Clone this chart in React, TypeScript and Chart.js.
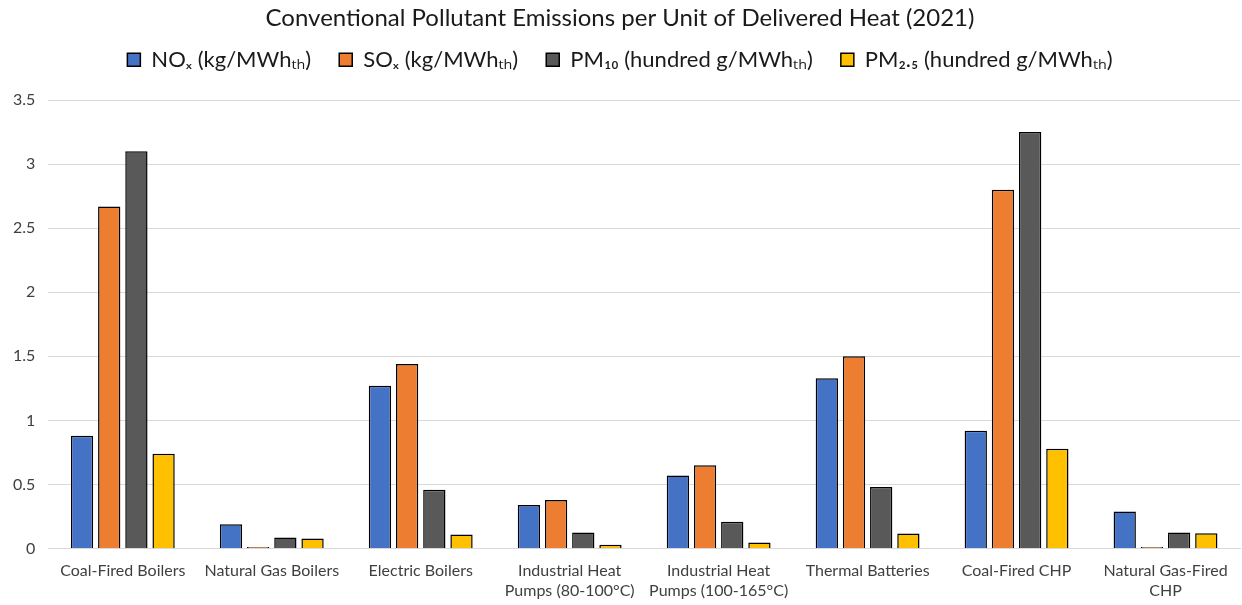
import React, { useEffect, useRef } from "react";
import { Chart, registerables } from "chart.js";

Chart.register(...registerables);

const categories: (string | string[])[] = [
  "Coal-Fired Boilers",
  "Natural Gas Boilers",
  "Electric Boilers",
  ["Industrial Heat", "Pumps (80-100°C)"],
  ["Industrial Heat", "Pumps (100-165°C)"],
  "Thermal Batteries",
  "Coal-Fired CHP",
  ["Natural Gas-Fired", "CHP"],
];

const noxValues = [0.88, 0.19, 1.27, 0.34, 0.57, 1.33, 0.92, 0.29];
const soxValues = [2.67, 0.012, 1.44, 0.38, 0.65, 1.5, 2.8, 0.012];
const pm10Values = [3.1, 0.086, 0.46, 0.125, 0.21, 0.48, 3.25, 0.125];
const pm25Values = [0.74, 0.078, 0.11, 0.03, 0.047, 0.117, 0.78, 0.12];

const seriesLabels = [
  "NOₓ (kg/MWhₜₕ)",
  "SOₓ (kg/MWhₜₕ)",
  "PM₁₀ (hundred g/MWhₜₕ)",
  "PM₂.₅ (hundred g/MWhₜₕ)",
];
const seriesColors = ["#4472C4", "#ED7D31", "#595959", "#FFC000"];

const titleText = "Conventional Pollutant Emissions per Unit of Delivered Heat (2021)";
const fontFamily = "Lato, 'Open Sans', sans-serif";

export default function App() {
  const ref = useRef<HTMLCanvasElement | null>(null);

  useEffect(() => {
    document.body.style.margin = "0";
    if (!ref.current) return;
    const values = [noxValues, soxValues, pm10Values, pm25Values];
    const chart = new Chart(ref.current, {
      type: "bar",
      data: {
        labels: categories,
        datasets: values.map((v, i) => ({
          label: seriesLabels[i],
          data: v,
          backgroundColor: seriesColors[i],
          borderColor: "#000000",
          borderWidth: 1.5,
          categoryPercentage: 0.73,
          barPercentage: 0.82,
        })),
      },
      options: {
        responsive: false,
        animation: false,
        layout: { padding: { left: 0, right: 2, top: 4, bottom: 0 } },
        plugins: {
          title: {
            display: true,
            text: titleText,
            color: "#1a1a1a",
            font: { family: fontFamily, size: 24, weight: "normal" },
            padding: { top: 0, bottom: -12 },
          },
          subtitle: {
            display: true,
            text: " ",
            weight: 500,
            font: { size: 1 },
            padding: { top: 0, bottom: 18 },
          } as any,
          legend: {
            position: "top",
            labels: {
              color: "#1a1a1a",
              font: { family: fontFamily, size: 22 },
              boxWidth: 13,
              boxHeight: 13,
              padding: 28,
            },
          },
          tooltip: { enabled: false },
        },
        scales: {
          x: {
            grid: { display: false },
            border: { display: true, color: "#d9d9d9" },
            ticks: {
              color: "#404040",
              font: { family: fontFamily, size: 16 },
              maxRotation: 0,
              autoSkip: false,
              padding: 5,
            },
          },
          y: {
            min: 0,
            max: 3.5,
            ticks: {
              stepSize: 0.5,
              color: "#404040",
              font: { family: fontFamily, size: 16 },
              padding: 13,
              callback: (v: any) => String(Number(v)),
            },
            grid: { color: "#d9d9d9", drawTicks: false },
            border: { display: false },
          },
        },
      },
    });
    return () => chart.destroy();
  }, []);

  return (
    <div style={{ width: 1242, height: 605 }}>
      <canvas ref={ref} width={1242} height={605} style={{ display: "block" }} />
    </div>
  );
}
